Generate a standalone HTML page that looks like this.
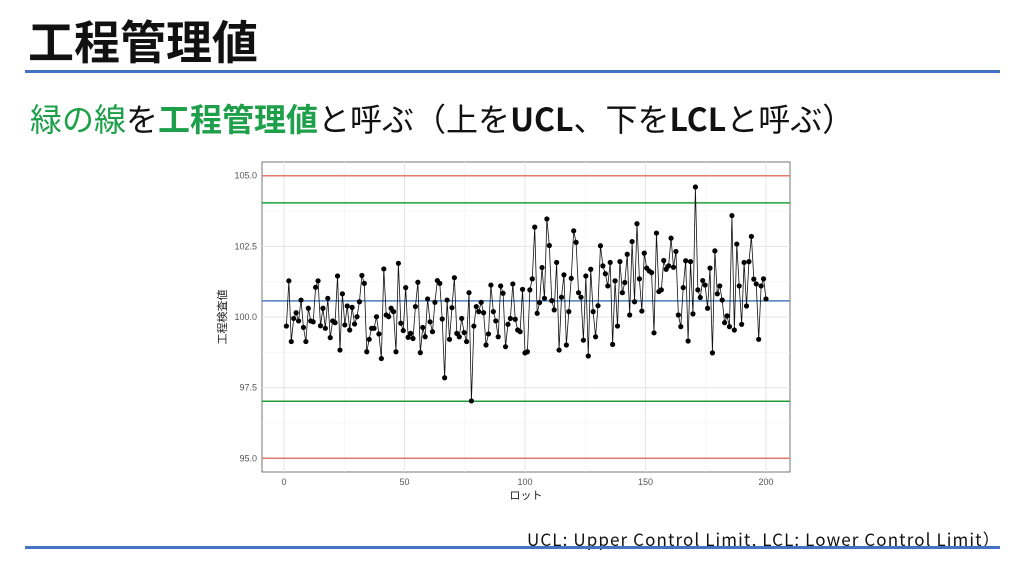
<!DOCTYPE html>
<html><head><meta charset="utf-8"><style>
body{margin:0;width:1024px;height:576px;background:#fff;position:relative;overflow:hidden;font-family:"Liberation Sans","Noto Sans CJK JP",sans-serif}
.abs{position:absolute}
</style></head><body>
<div class="abs" style="left:28px;top:12px;font-size:46px;line-height:56px;font-weight:bold;color:#111;font-family:'Noto Sans CJK JP',sans-serif">工程管理値</div>
<div class="abs" style="left:25px;top:70px;width:975px;height:3px;background:#4472c4"></div>
<div class="abs" style="left:30px;top:98px;font-size:32px;line-height:40px;color:#111;white-space:nowrap;font-family:'Noto Sans CJK JP',sans-serif"><span style="color:#1e9f4a">緑の線</span>を<b style="color:#1e9f4a">工程管理値</b>と呼ぶ（上を<b>UCL</b>、下を<b>LCL</b>と呼ぶ）</div>
<div class="abs" style="left:527px;top:526px;font-size:17px;letter-spacing:1.1px;color:#111;white-space:nowrap;font-family:'Noto Sans CJK JP',sans-serif">UCL: Upper Control Limit, LCL: Lower Control Limit）</div>
<div class="abs" style="left:25px;top:546px;width:975px;height:3px;background:#4472c4"></div>
<svg class="abs" style="left:0;top:0" width="1024" height="576" id="chart"></svg>
<script>
const values=[99.68,101.28,99.13,99.95,100.15,99.86,100.60,99.63,99.13,100.31,99.86,99.83,101.05,101.28,99.69,100.31,99.60,100.66,99.27,99.86,99.80,101.45,98.83,100.82,99.72,100.39,99.54,100.34,99.75,100.01,100.54,101.47,101.19,98.77,99.21,99.60,99.60,100.01,99.40,98.53,101.70,100.07,100.01,100.31,100.19,98.77,101.90,99.78,99.52,
101.04,99.28,99.42,99.24,100.37,101.23,98.74,99.63,99.30,100.64,99.83,99.48,100.52,101.29,101.19,99.93,97.85,100.60,99.21,100.33,101.39,99.42,99.30,99.95,99.45,99.13,100.86,97.03,99.68,100.37,100.19,100.52,100.15,99.01,99.40,101.13,100.19,99.86,99.30,101.10,100.84,98.95,99.74,99.95,101.17,99.92,99.54,99.48,100.98,
98.73,98.77,100.96,101.35,103.18,100.13,100.51,101.75,100.66,103.47,102.53,100.58,100.25,101.93,98.83,100.70,101.49,99.01,100.19,101.37,103.05,102.64,100.86,100.70,99.18,101.45,98.62,101.69,100.19,99.30,100.40,102.52,101.81,101.53,101.10,101.93,99.03,101.28,99.68,101.96,100.86,101.22,102.22,100.07,102.67,100.54,103.30,
101.35,100.21,102.26,101.73,101.63,101.57,99.44,102.97,100.90,100.96,102.00,101.69,101.81,102.79,101.76,102.32,100.07,99.66,101.04,101.99,99.15,101.96,100.11,104.60,100.96,100.69,101.29,101.13,100.31,101.73,98.73,102.34,100.82,101.10,100.60,99.80,100.04,99.66,103.59,99.54,102.58,101.10,99.74,101.93,100.39,101.96,102.85,101.34,101.17,99.21,101.10,101.35,100.64];
const yTicks=[95,97.5,100,102.5,105];
const xTicks=[0,50,100,150,200];
const refLines=[{v:105,c:"#e0786c"},{v:95,c:"#e0786c"},{v:104.04,c:"#1e9f3a"},{v:97.02,c:"#1e9f3a"},{v:100.57,c:"#4a7fc0"}];
const svg=document.getElementById('chart');const NS="http://www.w3.org/2000/svg";
const L=262,R=790,T=162,B=472;
const X=v=>284+(v)*(766-284)/200;
const Y=v=>458.3-(v-95)*(458.3-175.7)/10;
function mk(t,a,p){const e=document.createElementNS(NS,t);for(const k in a)e.setAttribute(k,a[k]);(p||svg).appendChild(e);return e;}
const panel=mk('rect',{x:L,y:T,width:R-L,height:B-T,fill:'#fff',stroke:'#555','stroke-width':0.8});


for(let i=0;i<yTicks.length;i++){const v=yTicks[i];
 const g=mk('line',{x1:L,x2:R,y1:Y(v),y2:Y(v),stroke:'#e6e6e6','stroke-width':1});
 
 
 if(i<yTicks.length-1){const m=mk('line',{x1:L,x2:R,y1:Y(v+1.25),y2:Y(v+1.25),stroke:'#f2f2f2','stroke-width':0.6});
 
 }
 const t=mk('text',{x:L-5,y:Y(v)+3,'text-anchor':'end','font-size':9,fill:'#555'});t.textContent=v.toFixed(1);
 
 }
for(let i=0;i<xTicks.length;i++){const v=xTicks[i];
 const g=mk('line',{y1:T,y2:B,x1:X(v),x2:X(v),stroke:'#e6e6e6','stroke-width':1});
 
 
 if(i<xTicks.length-1){const m=mk('line',{y1:T,y2:B,x1:X(v+25),x2:X(v+25),stroke:'#f2f2f2','stroke-width':0.6});
 
 }
 const t=mk('text',{x:X(v),y:B+13,'text-anchor':'middle','font-size':9,fill:'#555'});t.textContent=v;
 
 }
for(const r of refLines){const l=mk('line',{x1:L,x2:R,y1:Y(r.v),y2:Y(r.v),stroke:r.c,'stroke-width':1.5});
 
 }
const n=values.length;
const pts=values.map((v,i)=>[X(1+i*199/(n-1)),Y(v)]);
const pl=mk('polyline',{points:pts.map(p=>p.join(',')).join(' '),fill:'none',stroke:'#111','stroke-width':0.8});


for(const p of pts){const c=mk('circle',{cx:p[0],cy:p[1],r:2.6,fill:'#000'});
 
 }
const xt=mk('text',{x:(L+R)/2,y:B+27,'text-anchor':'middle','font-size':11,fill:'#222'});xt.textContent='ロット';


const yt=mk('text',{x:0,y:0,'text-anchor':'middle','font-size':11,fill:'#222',transform:`translate(226,${(T+B)/2}) rotate(-90)`});yt.textContent='工程検査値';


</script>
</body></html>
